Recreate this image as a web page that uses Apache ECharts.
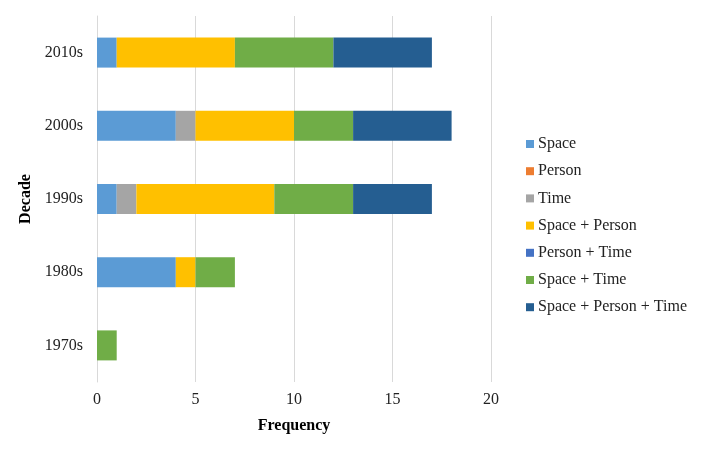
<!DOCTYPE html>
<html><head><meta charset="utf-8">
<script src="https://cdn.jsdelivr.net/npm/echarts@6/dist/echarts.min.js"></script>
<style>html,body{margin:0;padding:0;background:#fff}#c{width:709px;height:451px}</style>
</head><body><div id="c"></div>
<script>
const categories = ['1970s','1980s','1990s','2000s','2010s'];
const seriesNames = ['Space','Person','Time','Space + Person','Person + Time','Space + Time','Space + Person + Time'];
const space = [0,4,1,4,1];
const person = [0,0,0,0,0];
const time = [0,0,1,1,0];
const spacePerson = [0,1,7,5,6];
const personTime = [0,0,0,0,0];
const spaceTime = [1,2,4,3,5];
const spacePersonTime = [0,0,4,5,5];
const xTicks = [0,5,10,15,20];
const colors = ['#5B9BD5','#ED7D31','#A5A5A5','#FFC000','#4472C4','#70AD47','#255E91'];
const values = [space,person,time,spacePerson,personTime,spaceTime,spacePersonTime];
const font = '"Liberation Serif","Times New Roman",serif';
const chart = echarts.init(document.getElementById('c'));
chart.setOption({
  animation:false,
  textStyle:{fontFamily:font},
  grid:{left:97,right:218,top:16,bottom:69},
  legend:{orient:'vertical',left:521,top:131,itemWidth:8,itemHeight:8,itemGap:11.2,icon:'rect',
    textStyle:{fontFamily:font,fontSize:16,color:'#222',padding:[0,0,0,-1]},data:seriesNames},
  xAxis:{type:'value',min:xTicks[0],max:xTicks[xTicks.length-1],interval:5,
    name:'Frequency',nameLocation:'middle',nameGap:36,
    nameTextStyle:{fontFamily:font,fontSize:16,fontWeight:'bold',color:'#000'},
    axisLine:{show:false},axisTick:{show:false},
    axisLabel:{fontFamily:font,fontSize:16,color:'#222',margin:10},
    splitLine:{show:true,lineStyle:{color:'#d9d9d9',width:1}}},
  yAxis:{type:'category',data:categories,
    name:'Decade',nameLocation:'middle',nameGap:62,nameRotate:90,
    nameTextStyle:{fontFamily:font,fontSize:16,fontWeight:'bold',color:'#000'},
    axisLine:{show:true,lineStyle:{color:'#d9d9d9'}},axisTick:{show:false},
    axisLabel:{fontFamily:font,fontSize:16,color:'#222',margin:14}},
  series: seriesNames.map((n,i)=>({name:n,type:'bar',stack:'s',data:values[i],
    itemStyle:{color:colors[i]},barWidth:30}))
});
</script></body></html>
